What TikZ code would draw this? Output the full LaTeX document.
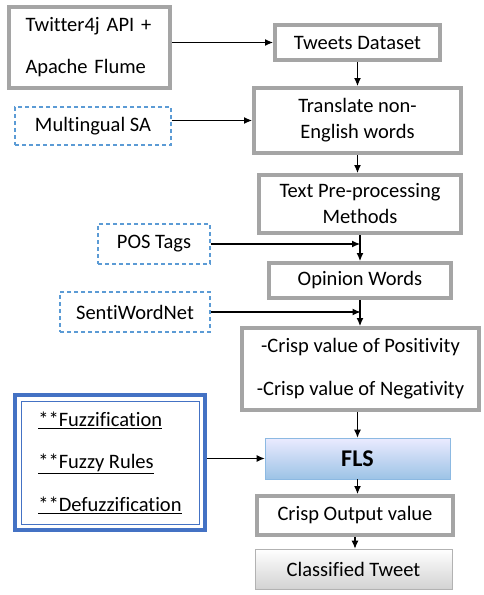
\documentclass[tikz,border=0pt]{standalone}
\usepackage{fontspec}
\setmainfont[Ligatures=NoCommon]{Carlito}
\usetikzlibrary{arrows.meta}
\definecolor{boxgray}{HTML}{A5A5A5}
\definecolor{dashblue}{HTML}{5B9BD5}
\definecolor{fuzzblue}{HTML}{4472C4}
\tikzstyle{procbox}=[rectangle,draw=boxgray,line width=4pt,fill=white,inner sep=2pt,align=center,font=\fontsize{20.5}{26}\selectfont]
\tikzstyle{inbox}=[rectangle,draw=dashblue,line width=1.2pt,dash pattern=on 4pt off 3pt,inner sep=2pt,align=center,font=\fontsize{20.5}{22}\selectfont]
\tikzstyle{flow}=[-{Latex[length=8pt,width=7pt]},line width=1.1pt]
\newcommand{\procnode}{\node[procbox]}
\newcommand{\inputnode}{\node[inbox]}

\begin{document}
\begin{tikzpicture}[x=1pt,y=-1pt]
\useasboundingbox (0,0) rectangle (483,595);
% % % % % % % % % % % % % % % % % % % % % % % % % % % % %
\procnode [minimum width=161pt,minimum height=81pt,text width=128pt,align=left,font=\fontsize{20.5}{42}\selectfont] (twitter) at (89.5,47.5) {Twitter4j API +\\Apache Flume};
\procnode [minimum width=165pt,minimum height=35pt] (tweets) at (357.5,42.5) {Tweets Dataset};
\inputnode [minimum width=156pt,minimum height=38pt] (multi) at (93,126) {Multingual SA};
\procnode [minimum width=207pt,minimum height=65pt] (translate) at (357.5,120.5) {Translate non-\\English words};
\procnode [minimum width=202pt,minimum height=58pt] (textpre) at (360,204) {Text Pre-processing\\Methods};
\inputnode [minimum width=112pt,minimum height=40pt] (pos) at (154,244) {POS Tags};
\procnode [minimum width=182pt,minimum height=35pt] (opinion) at (360,280.5) {Opinion Words};
\inputnode [minimum width=150pt,minimum height=40pt] (senti) at (135,312) {SentiWordNet};
\procnode [minimum width=237pt,minimum height=82pt,font=\fontsize{20.5}{43}\selectfont] (crisp) at (360.5,369) {-Crisp value of Positivity\\-Crisp value of Negativity};
%*********************
\node [rectangle,draw=fuzzblue,line width=4pt,minimum width=190pt,minimum height=135pt] (fuzz) at (110,462.5) {};
\node [rectangle,draw=fuzzblue,line width=1pt,minimum width=178pt,minimum height=123pt,align=left,font=\fontsize{20.5}{42.5}\selectfont] (fuzzin) at (110,462.5)
  {\underline{**Fuzzification}\\\underline{**Fuzzy Rules}\\\underline{**Defuzzification}};
\node [rectangle,draw=dashblue!70,line width=0.6pt,top color=blue!8,bottom color=dashblue!60,minimum width=185pt,minimum height=41pt,font=\fontsize{24}{26}\selectfont\bfseries] (fls) at (357.5,458.5) {FLS};
\procnode [minimum width=196pt,minimum height=39pt] (output) at (355,515.5) {Crisp Output value};
\node [rectangle,draw=gray!60,line width=0.6pt,top color=white,bottom color=gray!35,minimum width=197pt,minimum height=40pt,font=\fontsize{20.5}{22}\selectfont] (classified) at (353.5,569) {Classified Tweet};
% % % % % % % % % % % % % % % % % % % % % % % % % % % % %
\coordinate (t1) at (twitter.east |- tweets.west);
\coordinate (m1) at (multi.east |- translate.west);
\coordinate (p1) at (pos.east);
\coordinate (p2) at (pos.east -| opinion.north);
\coordinate (s1) at (senti.east);
\coordinate (s2) at (senti.east -| crisp.north);
\coordinate (f1) at (fuzz.east |- fls.west);
\path
(t1) edge [flow] (tweets.west)
(m1) edge [flow] (translate.west)
(p1) edge [flow] (p2)
(s1) edge [flow] (s2)
(f1) edge [flow] (fls.west)
%**************
(tweets.south) edge [flow] (tweets.south |- translate.north)
(translate.south) edge [flow] (translate.south |- textpre.north)
(textpre.south) edge [flow] (textpre.south |- opinion.north)
(opinion.south) edge [flow] (opinion.south |- crisp.north)
(crisp.south -| fls.north) edge [flow] (fls.north)
(fls.south) edge [flow] (fls.south |- output.north)
(output.south) edge [flow] (output.south |- classified.north)
;
\end{tikzpicture}
\end{document}
